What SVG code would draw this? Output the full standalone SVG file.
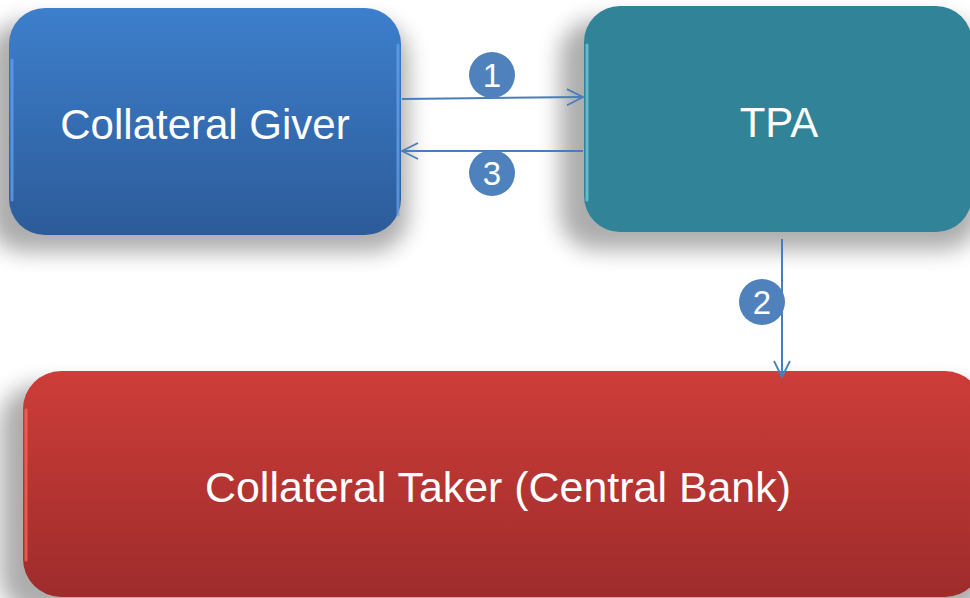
<svg xmlns="http://www.w3.org/2000/svg" width="970" height="598" viewBox="0 0 970 598">
<style>
.lbl{font-family:"Liberation Sans",Arial,sans-serif;fill:#ffffff;text-anchor:middle}
.big{font-size:42px}
.num{font-size:33px}
.conn{stroke:#4a7ebb;stroke-width:2;fill:none}
.badge{fill:#4f81bd}
.hl{fill:none;stroke-width:3;stroke-linecap:round}
.shadow{fill:#000;opacity:0.32;filter:url(#blur)}
</style>
<defs>
<linearGradient id="gBlue" x1="0" y1="0" x2="0" y2="1"><stop offset="0" stop-color="#3d7fcc"/><stop offset="1" stop-color="#2c5b99"/></linearGradient>
<linearGradient id="gTeal" x1="0" y1="0" x2="0" y2="1"><stop offset="0" stop-color="#318398"/><stop offset="1" stop-color="#318397"/></linearGradient>
<linearGradient id="gRed" x1="0" y1="0" x2="0" y2="1"><stop offset="0" stop-color="#cd3d39"/><stop offset="1" stop-color="#9e2c2b"/></linearGradient>
<filter id="blur" x="-20%" y="-20%" width="140%" height="140%"><feGaussianBlur stdDeviation="11"/></filter>
<marker id="arr" viewBox="0 0 18 18" refX="17" refY="9" markerWidth="18" markerHeight="18" markerUnits="userSpaceOnUse" orient="auto"><path d="M1,1 L17,9 L1,17" fill="none" stroke="#4a7ebb" stroke-width="1.8"/></marker>
</defs>
<g id="giver">
<rect class="shadow" x="-12" y="22" width="420" height="230" rx="36"/>
<rect x="9" y="8" width="392" height="227" rx="36" fill="url(#gBlue)"/>
<path class="hl" d="M12,60 V200" stroke="#6aa5ee" opacity="0.7"/>
<path class="hl" d="M398,45 V215" stroke="#6aa5ee" opacity="0.7"/>
<text class="lbl big" x="205" y="139">Collateral Giver</text>
</g>
<g id="tpa">
<rect class="shadow" x="560" y="20" width="420" height="230" rx="36"/>
<rect x="584" y="6" width="388" height="226" rx="36" fill="url(#gTeal)"/>
<path class="hl" d="M587,45 V200" stroke="#7fd0e2" opacity="0.7"/>
<text class="lbl big" x="779" y="137">TPA</text>
</g>
<g id="taker">
<rect class="shadow" x="0" y="385" width="990" height="230" rx="38"/>
<rect x="23" y="371" width="960" height="226" rx="38" fill="url(#gRed)"/>
<path class="hl" d="M26,410 V560" stroke="#ff6a60" opacity="0.7"/>
<text class="lbl big" x="498" y="502" textLength="586" lengthAdjust="spacingAndGlyphs">Collateral Taker (Central Bank)</text>
</g>
<g id="connectors">
<path class="conn" d="M402,99 L583,97" marker-end="url(#arr)"/>
<path class="conn" d="M583,151 L402,151" marker-end="url(#arr)"/>
<path class="conn" d="M782,239 L782,377" marker-end="url(#arr)"/>
</g>
<g id="badges">
<circle class="badge" cx="492" cy="75" r="23"/>
<text class="lbl num" x="492" y="87">1</text>
<circle class="badge" cx="492" cy="173" r="23"/>
<text class="lbl num" x="492" y="185">3</text>
<circle class="badge" cx="762" cy="302" r="23"/>
<text class="lbl num" x="762" y="314">2</text>
</g>
</svg>
